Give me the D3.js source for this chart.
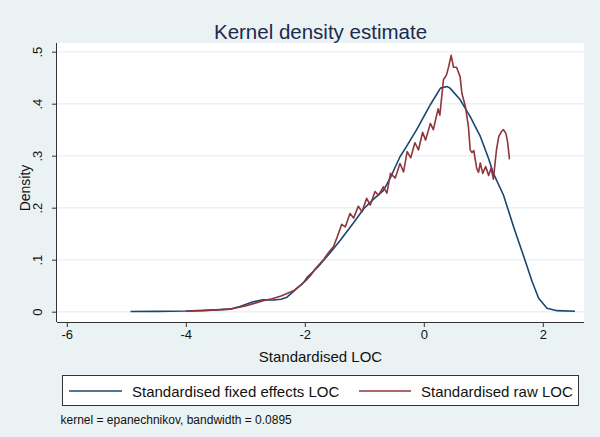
<!DOCTYPE html>
<html>
<head>
<meta charset="utf-8">
<script src="https://cdn.jsdelivr.net/npm/d3@7"></script>
<style>
  html, body { margin: 0; padding: 0; background: #eaf2f3; }
  svg { display: block; font-family: "Liberation Sans", Arial, sans-serif; }
</style>
</head>
<body>
<svg id="chart" width="600" height="437"></svg>
<script>
// ---- data ----
const titleText = "Kernel density estimate";
const xTitle = "Standardised LOC";
const yTitle = "Density";
const noteText = "kernel = epanechnikov, bandwidth = 0.0895";
const seriesNames = ["Standardised fixed effects LOC", "Standardised raw LOC"];
const xTicks = [-6, -4, -2, 0, 2];
const xTickLabels = ["-6", "-4", "-2", "0", "2"];
const yTicks = [0, 0.1, 0.2, 0.3, 0.4, 0.5];
const yTickLabels = ["0", ".1", ".2", ".3", ".4", ".5"];

const fixedX = [-4.93, -4.50, -4.00, -3.60, -3.25, -3.09, -2.87, -2.70, -2.53, -2.40, -2.30, -2.20,
  -2.03, -1.96, -1.78, -1.57, -1.40, -1.18, -1.01, -0.84, -0.68, -0.56, -0.40, -0.30, -0.12,
  0.11, 0.28, 0.39, 0.44, 0.61, 0.78, 0.95, 1.09, 1.17, 1.34, 1.51, 1.68, 1.82, 1.93, 2.07, 2.24, 2.54];
const fixedDensity = [0.0004, 0.0007, 0.0013, 0.003, 0.005, 0.010, 0.019, 0.023, 0.0225, 0.024, 0.028, 0.038,
  0.055, 0.066, 0.086, 0.114, 0.138, 0.171, 0.198, 0.217, 0.233, 0.258, 0.298, 0.316, 0.350,
  0.398, 0.430, 0.433, 0.430, 0.408, 0.375, 0.337, 0.294, 0.266, 0.224, 0.163, 0.106, 0.058, 0.026, 0.0065, 0.002, 0.001];

const rawX = [-4.00, -3.70, -3.40, -3.20, -3.00, -2.85, -2.70, -2.55, -2.40, -2.28, -2.18, -2.08,
  -1.98, -1.90, -1.82, -1.74, -1.68, -1.60, -1.52, -1.46, -1.38, -1.32, -1.24, -1.18, -1.10, -1.04,
  -0.96, -0.90, -0.82, -0.76, -0.68, -0.62, -0.56, -0.48, -0.40, -0.34, -0.28, -0.22, -0.15, -0.09,
  -0.02, 0.03, 0.11, 0.16, 0.24, 0.27, 0.33, 0.38, 0.42, 0.46, 0.50, 0.55, 0.61, 0.64, 0.70, 0.75,
  0.78, 0.81, 0.84, 0.89, 0.92, 0.95, 0.99, 1.04, 1.09, 1.13, 1.17, 1.22, 1.26, 1.31, 1.34, 1.38, 1.41, 1.44];
const rawDensity = [0.001, 0.002, 0.004, 0.006, 0.011, 0.016, 0.021, 0.025, 0.030, 0.036, 0.041, 0.050,
  0.060, 0.070, 0.083, 0.093, 0.101, 0.114, 0.125, 0.142, 0.168, 0.163, 0.189, 0.180, 0.203, 0.192,
  0.218, 0.205, 0.231, 0.224, 0.240, 0.228, 0.266, 0.257, 0.285, 0.269, 0.308, 0.296, 0.325, 0.311,
  0.345, 0.330, 0.362, 0.350, 0.390, 0.378, 0.446, 0.455, 0.472, 0.493, 0.470, 0.470, 0.452, 0.420, 0.394, 0.356,
  0.311, 0.306, 0.310, 0.275, 0.268, 0.286, 0.266, 0.279, 0.262, 0.276, 0.255, 0.310, 0.337, 0.347, 0.350, 0.343, 0.325, 0.293];

// ---- layout ----
const svg = d3.select("#chart");
const W = 600, H = 437;
const plot = { left: 57, right: 584, top: 43, bottom: 322 };
const colors = ["#1a476f", "#90353b"];

svg.append("rect").attr("x", 0).attr("y", 0).attr("width", W).attr("height", H).attr("fill", "#eaf2f3");
svg.append("rect").attr("x", plot.left).attr("y", plot.top)
  .attr("width", plot.right - plot.left).attr("height", plot.bottom - plot.top).attr("fill", "#ffffff");

const x = d3.scaleLinear().domain([-6, 2]).range([66.8, 542.8]);
const y = d3.scaleLinear().domain([0, 0.5]).range([311.7, 51.7]);

// gridlines
svg.append("g").selectAll("line").data(yTicks).join("line")
  .attr("x1", plot.left).attr("x2", plot.right)
  .attr("y1", d => y(d)).attr("y2", d => y(d))
  .attr("stroke", "#eaf2f3").attr("stroke-width", 1.5);

// axes
const xAxis = d3.axisBottom(x).tickValues(xTicks).tickFormat((d, i) => xTickLabels[i]).tickSize(5).tickPadding(3);
const gx = svg.append("g").attr("transform", `translate(0,${plot.bottom})`).call(xAxis);
gx.select(".domain").attr("d", `M${plot.left},0.5H${plot.right}`).attr("stroke", "#333");
gx.selectAll(".tick line").attr("stroke", "#333");
gx.selectAll(".tick text").attr("font-size", 13).attr("fill", "#111").attr("font-family", "Liberation Sans, Arial, sans-serif");

const yAxis = d3.axisLeft(y).tickValues(yTicks).tickFormat((d, i) => yTickLabels[i]).tickSize(5);
const gy = svg.append("g").attr("transform", `translate(${plot.left},0)`).call(yAxis);
gy.select(".domain").attr("d", `M-0.5,${plot.top}V${plot.bottom}`).attr("stroke", "#333");
gy.selectAll(".tick line").attr("stroke", "#333");
gy.selectAll(".tick text")
  .attr("font-size", 13).attr("fill", "#111").attr("font-family", "Liberation Sans, Arial, sans-serif")
  .attr("x", null).attr("dy", null)
  .attr("text-anchor", "middle")
  .attr("transform", "translate(-15,0) rotate(-90)");

// lines
const line = d3.line().x(d => x(d[0])).y(d => y(d[1]));
const fixedData = fixedX.map((v, i) => [v, fixedDensity[i]]);
const rawData = rawX.map((v, i) => [v, rawDensity[i]]);
svg.append("path").datum(fixedData).attr("d", line)
  .attr("fill", "none").attr("stroke", colors[0]).attr("stroke-width", 1.6).attr("stroke-linejoin", "round");
svg.append("path").datum(rawData).attr("d", line)
  .attr("fill", "none").attr("stroke", colors[1]).attr("stroke-width", 1.6).attr("stroke-linejoin", "round");

// titles
svg.append("text").attr("x", 320.5).attr("y", 39).attr("text-anchor", "middle")
  .attr("font-size", 20.5).attr("fill", "#1a2a50").text(titleText);
svg.append("text").attr("x", 320.5).attr("y", 362).attr("text-anchor", "middle")
  .attr("font-size", 15).attr("fill", "#111").text(xTitle);
svg.append("text").attr("transform", "translate(30,188) rotate(-90)").attr("text-anchor", "middle")
  .attr("font-size", 14).attr("fill", "#111").text(yTitle);

// legend
const lg = svg.append("g");
lg.append("rect").attr("x", 62.5).attr("y", 375.5).attr("width", 516).attr("height", 30)
  .attr("fill", "#ffffff").attr("stroke", "#333").attr("stroke-width", 1);
const legendItems = [
  { x1: 69, x2: 122, tx: 132 },
  { x1: 359, x2: 411, tx: 421 }
];
legendItems.forEach((it, i) => {
  lg.append("line").attr("x1", it.x1).attr("x2", it.x2).attr("y1", 391).attr("y2", 391)
    .attr("stroke", colors[i]).attr("stroke-width", 1.6);
  lg.append("text").attr("x", it.tx).attr("y", 396.5).attr("font-size", 15).attr("fill", "#111").text(seriesNames[i]);
});

// note
svg.append("text").attr("x", 60.5).attr("y", 424).attr("font-size", 12).attr("fill", "#111").text(noteText);
</script>
</body>
</html>
